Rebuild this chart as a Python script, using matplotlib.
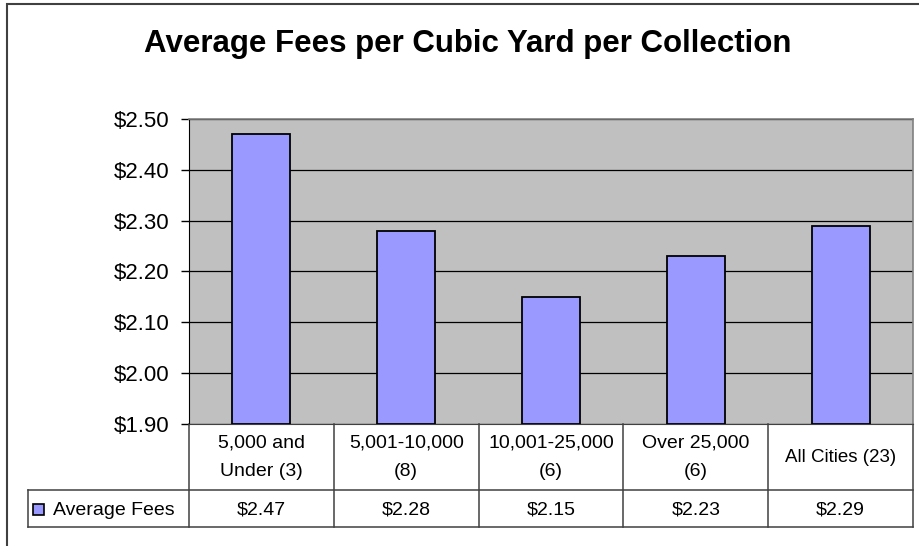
import matplotlib
matplotlib.use("Agg")
import matplotlib.pyplot as plt
from matplotlib.patches import Rectangle
from matplotlib.lines import Line2D

plt.rcParams["font.family"] = ["Liberation Sans", "DejaVu Sans"]

# data
categories = ["5,000 and\nUnder (3)", "5,001-10,000\n(8)", "10,001-25,000\n(6)",
              "Over 25,000\n(6)", "All Cities (23)"]
fees = [2.47, 2.28, 2.15, 2.23, 2.29]
series_name = "Average Fees"
y_ticks = [1.90, 2.00, 2.10, 2.20, 2.30, 2.40, 2.50]

W, H = 920, 546
BAR = "#9999FF"
GRID = "#404040"


def fx(x):
    return x / W


def fy(y):
    return 1 - y / H


fig = plt.figure(figsize=(W / 100, H / 100), dpi=100)

# outer chart frame (runs off the right/bottom edge like the original)
fig.patches.append(Rectangle((fx(7), fy(560)), fx(940) - fx(7), fy(4) - fy(560),
                             transform=fig.transFigure, fill=False,
                             edgecolor="#404040", lw=1.5))

fig.text(fx(468), fy(44), "Average Fees per Cubic Yard per Collection",
         ha="center", va="center", fontsize=22.5, fontweight="bold")

left, right, top, bottom = 189, 913, 119, 424
ax = fig.add_axes([fx(left), fy(bottom), fx(right) - fx(left), fy(top) - fy(bottom)])
ax.set_facecolor("#C0C0C0")

x = list(range(len(fees)))
ax.bar(x, [v - y_ticks[0] for v in fees], bottom=y_ticks[0], width=0.4,
       color=BAR, edgecolor="black", lw=1.3, zorder=3)

ax.set_xlim(-0.5, len(fees) - 0.5)
ax.set_ylim(y_ticks[0], y_ticks[-1])
ax.set_yticks(y_ticks)
ax.set_yticklabels([f"${v:.2f}" for v in y_ticks], fontsize=16)
ax.tick_params(axis="y", length=6, width=1, pad=8, direction="out")
ax.set_xticks([])
ax.grid(axis="y", color="black", lw=0.9, zorder=1)
ax.set_axisbelow(True)
for side in ("top", "right"):
    ax.spines[side].set_color("#808080")
    ax.spines[side].set_linewidth(1.2)
ax.spines["left"].set_color("black")
ax.spines["bottom"].set_color(GRID)

# data table under the plot: x in data units, y in axes fraction
tr = ax.get_xaxis_transform()
ph = bottom - top
col_px = (right - left) / len(fees)
r1 = -(490 - bottom) / ph
r2 = -(527 - bottom) / ph
x_leg = -0.5 - (left - 28) / col_px


def tline(xs, ys):
    ax.add_line(Line2D(xs, ys, transform=tr, color=GRID, lw=1.1, clip_on=False))


for i in range(len(fees) + 1):
    tline([i - 0.5, i - 0.5], [0, r2])
tline([x_leg, x_leg], [r1, r2])
tline([x_leg, len(fees) - 0.5], [r1, r1])
tline([x_leg, len(fees) - 0.5], [r2, r2])

for i, (cat, v) in enumerate(zip(categories, fees)):
    fs = 13.5 if "\n" not in cat else 14
    ax.text(i, r1 / 2, cat, transform=tr, ha="center", va="center",
            fontsize=fs, linespacing=1.9)
    ax.text(i, (r1 + r2) / 2 - 0.005, f"${v:.2f}", transform=tr, ha="center",
            va="center", fontsize=14)

# legend key in the table's first column
mid = (r1 + r2) / 2
ax.add_patch(Rectangle((x_leg + 5 / col_px, mid - 6 / ph), 11 / col_px, 11 / ph,
                       transform=tr, facecolor=BAR, edgecolor="black", lw=1.2,
                       clip_on=False))
ax.text(x_leg + 25 / col_px, mid - 0.005, series_name, transform=tr, ha="left",
        va="center", fontsize=14)

fig.savefig("out.png", dpi=100)
